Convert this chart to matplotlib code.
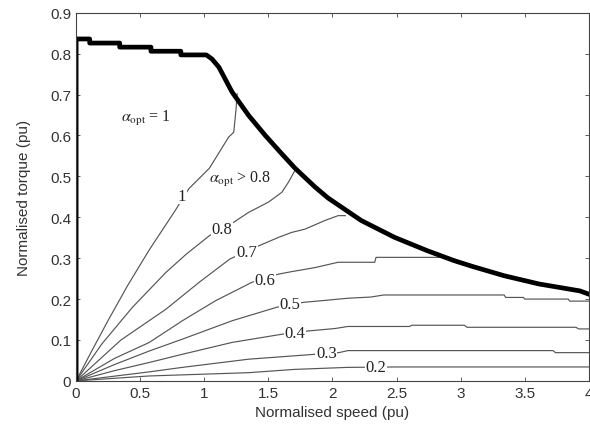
import numpy as np
import matplotlib.pyplot as plt

plt.rcParams['mathtext.fontset'] = 'stix'

# envelope (max torque) curve
env_speed = [0, 0, 0.106, 0.106, 0.34, 0.34, 0.584, 0.584, 0.817, 0.817, 1.016, 1.06, 1.114,
             1.217, 1.346, 1.476, 1.605, 1.708, 1.864, 1.966, 2.225, 2.484, 2.742, 2.949,
             3.09, 3.34, 3.61, 3.93, 4.0]
env_torque = [0, 0.836, 0.836, 0.826, 0.826, 0.816, 0.816, 0.806, 0.806, 0.797, 0.797, 0.787, 0.767,
              0.706, 0.649, 0.600, 0.555, 0.520, 0.474, 0.447, 0.392, 0.351, 0.318, 0.294,
              0.280, 0.257, 0.237, 0.220, 0.212]

# alpha_opt contour lines
c10_x = [0, 0.12, 0.25, 0.40, 0.57, 0.77, 0.88, 1.04, 1.19, 1.23, 1.248, 1.256]
c10_y = [0, 0.072, 0.148, 0.232, 0.32, 0.415, 0.47, 0.52, 0.596, 0.608, 0.665, 0.702]
c08_x = [0, 0.2, 0.44, 0.70, 0.86, 1.04, 1.23, 1.346, 1.50, 1.605, 1.657, 1.71]
c08_y = [0, 0.09, 0.18, 0.265, 0.31, 0.355, 0.388, 0.412, 0.437, 0.461, 0.486, 0.516]
c07_x = [0, 0.35, 0.70, 0.96, 1.2, 1.424, 1.58, 1.682, 1.786, 1.94, 2.044, 2.1]
c07_y = [0, 0.10, 0.175, 0.241, 0.298, 0.330, 0.351, 0.363, 0.371, 0.392, 0.404, 0.404]
c06_x = [0, 0.3, 0.571, 0.829, 1.088, 1.372, 1.579, 1.68, 1.864, 2.044, 2.33, 2.34, 2.90]
c06_y = [0, 0.055, 0.094, 0.147, 0.196, 0.241, 0.261, 0.267, 0.277, 0.290, 0.290, 0.302, 0.302]
c05_x = [0, 0.3, 0.571, 0.829, 1.217, 1.566, 1.773, 1.915, 2.12, 2.3, 2.4, 3.34, 3.35, 3.49,
         3.50, 3.84, 3.85, 4.0]
c05_y = [0, 0.04, 0.073, 0.102, 0.147, 0.180, 0.192, 0.196, 0.202, 0.205, 0.210, 0.210, 0.204,
         0.204, 0.200, 0.200, 0.195, 0.195]
c04_x = [0, 0.3, 0.571, 0.829, 1.217, 1.605, 1.81, 2.02, 2.12, 2.6, 2.62, 3.03, 3.05, 3.9, 3.92, 4.0]
c04_y = [0, 0.025, 0.045, 0.065, 0.094, 0.114, 0.122, 0.128, 0.133, 0.133, 0.136, 0.136, 0.131,
         0.131, 0.127, 0.127]
c03_x = [0, 0.571, 0.829, 1.346, 1.864, 2.05, 2.12, 3.72, 3.74, 4.0]
c03_y = [0, 0.022, 0.033, 0.053, 0.065, 0.069, 0.074, 0.074, 0.069, 0.069]
c02_x = [0, 0.571, 1.346, 1.7, 2.12, 2.5, 4.0]
c02_y = [0, 0.012, 0.020, 0.028, 0.033, 0.034, 0.034]

contours = [(c10_x, c10_y), (c08_x, c08_y), (c07_x, c07_y), (c06_x, c06_y),
            (c05_x, c05_y), (c04_x, c04_y), (c03_x, c03_y), (c02_x, c02_y)]
labels = ['1', '0.8', '0.7', '0.6', '0.5', '0.4', '0.3', '0.2']
label_pos = [(0.825, 0.453), (1.137, 0.371), (1.33, 0.314), (1.476, 0.247),
             (1.667, 0.188), (1.708, 0.118), (1.953, 0.069), (2.34, 0.034)]

fig, ax = plt.subplots(figsize=(5.9, 4.31), dpi=100)
fig.subplots_adjust(left=0.129, right=0.998, bottom=0.114, top=0.968)

for (xs, ys) in contours:
    ax.plot(xs, ys, color='#555555', lw=0.85)
ax.plot(env_speed, env_torque, color='black', lw=3.4, solid_joinstyle='round')

for lab, (lx, ly) in zip(labels, label_pos):
    ax.text(lx, ly, lab, ha='center', va='center', fontsize=12, family='Liberation Serif',
            color='#222222', bbox=dict(facecolor='white', edgecolor='none', pad=0.5))

ax.text(0.545, 0.645, r'$\alpha_{\rm opt}$ = 1', ha='center', va='center', fontsize=11.5,
        family='Liberation Serif', color='#222222')
ax.text(1.28, 0.494, r'$\alpha_{\rm opt}$ > 0.8', ha='center', va='center', fontsize=11.5,
        family='Liberation Serif', color='#222222')

ax.set_xlim(0, 4)
ax.set_ylim(0, 0.9)
ax.set_xticks(np.arange(0, 4.01, 0.5))
ax.set_xticklabels(['0', '0.5', '1', '1.5', '2', '2.5', '3', '3.5', '4'])
ax.set_yticks(np.arange(0, 0.91, 0.1))
ax.set_yticklabels(['0', '0.1', '0.2', '0.3', '0.4', '0.5', '0.6', '0.7', '0.8', '0.9'])
ax.tick_params(direction='in', top=True, right=True, length=3, width=0.6,
               labelsize=11, labelcolor='#333333', color='#444444')
for s in ax.spines.values():
    s.set_linewidth(0.8)
    s.set_color('#444444')
for t in ax.get_xticklabels() + ax.get_yticklabels():
    t.set_family('Liberation Sans')

ax.set_xlabel('Normalised speed (pu)', fontsize=11, family='Liberation Sans', color='#333333')
ax.set_ylabel('Normalised torque (pu)', fontsize=11, family='Liberation Sans', color='#333333',
              labelpad=14)

fig.savefig('out.png', dpi=100)
